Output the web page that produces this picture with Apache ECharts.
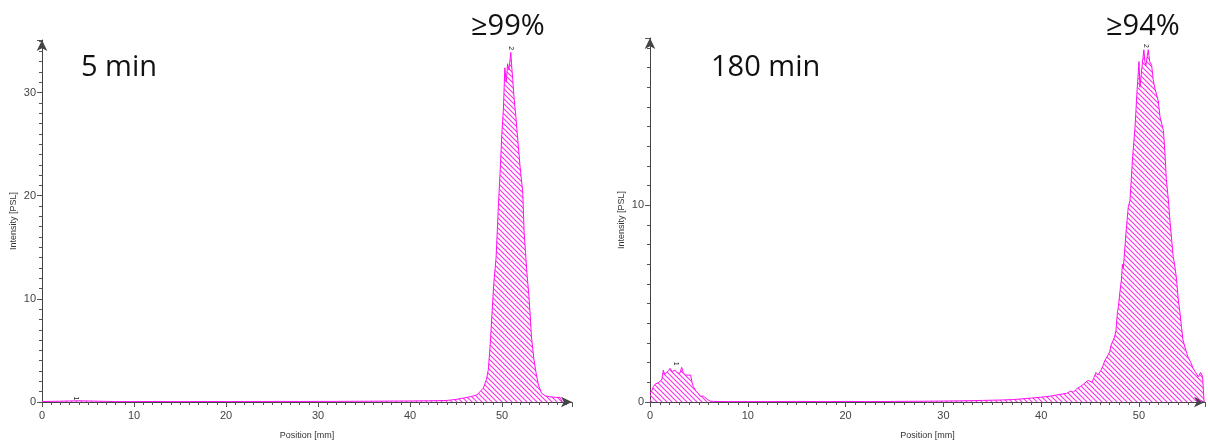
<!DOCTYPE html>
<html>
<head>
<meta charset="utf-8">
<script src="https://cdn.jsdelivr.net/npm/echarts@6/dist/echarts.min.js"></script>
<style>
  html, body { margin: 0; padding: 0; background: #fff; }
  #chart { width: 1208px; height: 441px; }
</style>
</head>
<body>
<div id="chart"></div>
<script>
// 5 min scan: position [mm] and intensity [PSL]
var pos5 = [0, 1, 2, 3, 4, 5, 6, 7, 8, 10, 12, 14, 16, 18, 20, 22, 24, 26, 28, 30, 32, 34, 36, 38, 40, 42, 43, 44, 45, 45.8, 46.5, 47.25, 47.6, 47.97, 48.3, 48.5, 48.7, 48.9, 49.1, 49.35, 49.6, 49.8, 49.97, 50.15, 50.3, 50.45, 50.6, 50.75, 50.95, 51.05, 51.16, 51.3, 51.5, 51.7, 51.96, 52.25, 52.4, 52.55, 52.7, 52.9, 53.05, 53.2, 53.45, 53.7, 53.95, 54.3, 54.7, 55.2, 55.8, 56.3, 56.5, 56.55];
var int5 = [0.05, 0.06, 0.08, 0.1, 0.12, 0.1, 0.08, 0.06, 0.04, 0.04, 0.05, 0.04, 0.04, 0.05, 0.04, 0.05, 0.05, 0.06, 0.05, 0.06, 0.06, 0.07, 0.08, 0.09, 0.1, 0.12, 0.13, 0.15, 0.25, 0.38, 0.5, 0.68, 1.0, 1.35, 2.2, 3.1, 5.4, 8.5, 11.5, 14, 19, 22.5, 25.9, 28.5, 32.4, 31, 32.8, 32.2, 33.9, 32.5, 31.3, 29.5, 27.7, 25.5, 22.8, 20.3, 16.4, 14.5, 12.5, 10.5, 8.5, 6.3, 4.2, 2.8, 1.65, 0.84, 0.6, 0.5, 0.45, 0.45, 0.3, 0];

// 180 min scan
var pos180 = [0, 0.2, 0.34, 0.5, 0.68, 0.9, 1.2, 1.36, 1.5, 1.7, 1.9, 2.05, 2.3, 2.56, 2.75, 2.9, 3.05, 3.24, 3.4, 3.58, 3.75, 3.92, 4.15, 4.3, 4.43, 4.7, 4.94, 5.1, 5.28, 5.45, 5.62, 5.9, 6.13, 6.5, 8, 10, 12, 15, 18, 20, 22, 25, 28, 30, 32, 34, 35.8, 37, 37.8, 39, 39.9, 41, 41.6, 42.6, 43, 43.3, 43.7, 44, 44.3, 44.5, 44.8, 45, 45.2, 45.4, 45.6, 45.8, 46.1, 46.35, 46.5, 46.7, 46.85, 47, 47.15, 47.3, 47.5, 47.65, 47.8, 47.9, 48.05, 48.2, 48.3, 48.4, 48.67, 48.9, 49.08, 49.35, 49.6, 49.8, 49.9, 50, 50.1, 50.3, 50.5, 50.6, 50.7, 50.85, 50.95, 51.1, 51.3, 51.45, 51.6, 51.8, 51.97, 52.15, 52.3, 52.5, 52.66, 52.8, 53, 53.17, 53.35, 53.5, 53.7, 53.85, 54, 54.2, 54.35, 54.5, 54.75, 55, 55.3, 55.55, 55.8, 56.06, 56.3, 56.5, 56.65, 56.66];
var int180 = [0.44, 0.6, 0.78, 0.9, 0.95, 1.0, 1.12, 1.62, 1.4, 1.45, 1.6, 1.71, 1.55, 1.62, 1.5, 1.54, 1.45, 1.76, 1.5, 1.37, 1.3, 1.37, 1.37, 1.0, 0.78, 0.55, 0.44, 0.3, 0.27, 0.3, 0.24, 0.12, 0.05, 0.03, 0.02, 0.02, 0.02, 0.03, 0.02, 0.03, 0.02, 0.03, 0.04, 0.05, 0.06, 0.08, 0.1, 0.12, 0.15, 0.2, 0.24, 0.3, 0.36, 0.44, 0.55, 0.5, 0.7, 0.78, 0.9, 0.85, 1.1, 1.12, 1.0, 1.25, 1.5, 1.37, 1.6, 1.88, 2.1, 2.2, 2.4, 2.55, 2.9, 3.0, 3.3, 3.65, 4.6, 4.85, 5.6, 6.2, 7.0, 6.8, 8.6, 9.9, 10.25, 12.45, 14.0, 15.8, 16.5, 17.3, 16.0, 17.0, 17.9, 17.3, 17.1, 17.6, 17.9, 17.3, 17.1, 16.4, 16.0, 15.9, 15.3, 14.5, 14.6, 13.8, 12.6, 11.3, 10.3, 9.2, 8.2, 7.4, 6.8, 6.2, 5.3, 4.5, 3.8, 3.15, 2.7, 2.3, 2.0, 1.7, 1.5, 1.28, 1.5, 1.3, 1.28, 0];

// peak numbers printed by the scanner software
var peaks5 = [[3.7, 0.35, '1'], [50.95, 34.3, '2']];
var peaks180 = [[2.7, 1.95, '1'], [50.7, 18.1, '2']];

var titles = ['5 min', '180 min'];
var purity = ['≥99%', '≥94%'];

var magenta = '#ff10f0';

// diagonal hatch pattern for the peak areas
var hatch = document.createElement('canvas');
hatch.width = 5; hatch.height = 5;
var hc = hatch.getContext('2d');
hc.strokeStyle = '#ff30ee';
hc.lineWidth = 1.1;
hc.beginPath();
hc.moveTo(-1, -1); hc.lineTo(6, 6);
hc.moveTo(-1, 4); hc.lineTo(1, 6);
hc.moveTo(4, -1); hc.lineTo(6, 1);
hc.stroke();

function pairs(xs, ys) {
    return xs.map(function (x, i) { return [x, ys[i]]; });
}

function xAxisFor(idx, max) {
    return {
        gridIndex: idx, type: 'value', min: 0, max: max, interval: 10,
        name: 'Position [mm]', nameLocation: 'middle', nameGap: 29,
        nameTextStyle: { fontSize: 9, color: '#333', fontFamily: 'Liberation Sans' },
        axisLine: { lineStyle: { color: '#444' }, symbol: ['none', 'arrow'], symbolSize: [8, 11] },
        axisTick: { length: 5, lineStyle: { color: '#555' } },
        minorTick: { show: true, splitNumber: 10, length: 3, lineStyle: { color: '#555' } },
        axisLabel: { fontSize: 11, color: '#444', margin: 8, showMaxLabel: false, fontFamily: 'Liberation Sans' },
        splitLine: { show: false }
    };
}

function yAxisFor(idx, max) {
    return {
        gridIndex: idx, type: 'value', min: 0, max: max, interval: 10,
        name: 'Intensity [PSL]', nameLocation: 'middle', nameGap: 24,
        nameTextStyle: { fontSize: 9, color: '#333', fontFamily: 'Liberation Sans' },
        axisLine: { show: true, lineStyle: { color: '#444' }, symbol: ['none', 'arrow'], symbolSize: [8, 11] },
        axisTick: { show: true, length: 5, lineStyle: { color: '#555' } },
        minorTick: { show: true, splitNumber: 10, length: 3, lineStyle: { color: '#555' } },
        axisLabel: { fontSize: 11, color: '#444', margin: 6, showMaxLabel: false, fontFamily: 'Liberation Sans' },
        splitLine: { show: false }
    };
}

function profile(idx, data, peaks) {
    return {
        type: 'line', xAxisIndex: idx, yAxisIndex: idx,
        data: data, showSymbol: false, animation: false,
        lineStyle: { color: magenta, width: 1 },
        areaStyle: { color: { image: hatch, repeat: 'repeat' }, opacity: 1 },
        markPoint: {
            symbol: 'circle', symbolSize: 0, animation: false,
            label: { show: true, formatter: '{b}', fontSize: 7, color: '#222', rotate: -90 },
            data: peaks.map(function (p) { return { name: p[2], coord: [p[0], p[1]] }; })
        }
    };
}

function bigText(x, y, text) {
    return {
        type: 'text', left: x, top: y,
        style: { text: text, fontSize: 29, fill: '#111', fontFamily: 'Open Sans' }
    };
}

var chart = echarts.init(document.getElementById('chart'));
chart.setOption({
    backgroundColor: '#fff',
    animation: false,
    grid: [
        { left: 42, top: 40, width: 530, height: 362, outerBoundsMode: 'none' },
        { left: 650, top: 38, width: 555, height: 364, outerBoundsMode: 'none' }
    ],
    xAxis: [xAxisFor(0, 57.6), xAxisFor(1, 56.75)],
    yAxis: [yAxisFor(0, 35.1), yAxisFor(1, 18.5)],
    series: [
        profile(0, pairs(pos5, int5), peaks5),
        profile(1, pairs(pos180, int180), peaks180)
    ],
    graphic: [
        bigText(81, 53, titles[0]),
        bigText(711, 53, titles[1]),
        bigText(471, 12, purity[0]),
        bigText(1106, 12, purity[1])
    ]
});
</script>
</body>
</html>
